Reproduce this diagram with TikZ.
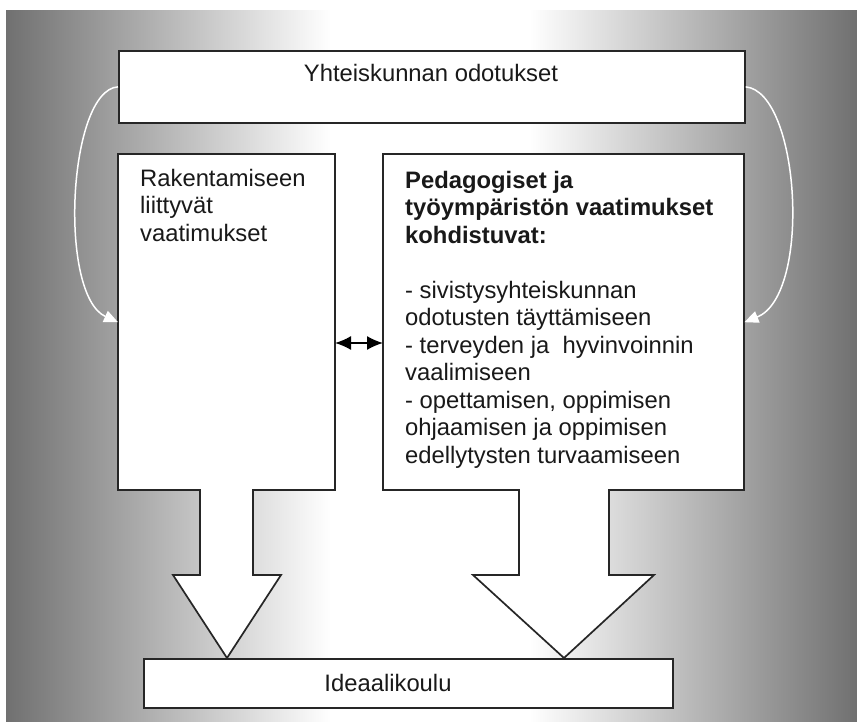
\documentclass[tikz,border=0pt]{standalone}
\usepackage{fontspec}
\setmainfont{Liberation Sans}
\usetikzlibrary{arrows.meta}
\definecolor{edgegray}{gray}{0.44}
\definecolor{inkgray}{gray}{0.1}
\begin{document}
\begin{tikzpicture}[x=1pt,y=-1pt,
  outline/.style={draw=black!85, line width=1.7pt, fill=white, line join=miter},
  holder/.style={draw=none, inner sep=0pt, anchor=north west},
  txt/.style={inner sep=0pt, text=inkgray, font=\fontsize{23.8}{27.5}\selectfont},
  para/.style={txt, align=left, anchor=north west},
  feed/.style={draw=white, line width=1.5pt, -{Triangle[length=14pt,width=12pt,fill=white]}},
  link/.style={draw=black, line width=1.6pt, {Latex[length=16pt,width=14pt]}-{Latex[length=16pt,width=14pt]}}]
\useasboundingbox (0,0) rectangle (857,728);
% background: grey at both sides, white in the middle
\fill[white] (0,0) rectangle (857,728);
\shade[left color=edgegray, right color=white] (6,10) rectangle (330.5,721);
\fill[white] (330,10) rectangle (530,721);
\shade[left color=white, right color=edgegray] (529.5,10) rectangle (857,721);

% top box
\node[outline, anchor=north west, minimum width=626pt, minimum height=72pt, inner sep=0pt] (soc) at (118,50) {};
\node[txt, anchor=base] (soctxt) at (431,81) {Yhteiskunnan odotukset};

% left box with its block arrow
\node[holder, minimum width=217pt, minimum height=336pt] (lbox) at (118,154) {};
\draw[outline] (118,154) -- (335,154) -- (335,490) -- (253,490) -- (253,575)
  -- (281,575) -- (227,658) -- (173,575) -- (200,575) -- (200,490) -- (118,490) -- cycle;
\node[para] (ltxt) at (140,169) {Rakentamiseen\\liittyvät\\vaatimukset};

% right box with its block arrow
\node[holder, minimum width=361pt, minimum height=336pt] (rbox) at (383,154) {};
\draw[outline] (383,154) -- (744,154) -- (744,490) -- (609,490) -- (609,575)
  -- (654,575) -- (564,658) -- (473,575) -- (519,575) -- (519,490) -- (383,490) -- cycle;
\node[para, font=\fontsize{23.8}{27.5}\selectfont\bfseries] (rhead) at (405,171)
  {Pedagogiset ja\\työympäristön vaatimukset\\kohdistuvat:};
\node[para] (rlist) at (405,281)
  {- sivistysyhteiskunnan\\odotusten täyttämiseen\\- terveyden ja\ \ hyvinvoinnin\\vaalimiseen\\- opettamisen, oppimisen\\ohjaamisen ja oppimisen\\edellytysten turvaamiseen};

% bottom box
\node[outline, anchor=north west, minimum width=529pt, minimum height=49pt, inner sep=0pt] (ideal) at (143,658) {};
\node[txt, anchor=base] (idealtxt) at (388,691) {Ideaalikoulu};

% curved feedback arrows
\draw[feed] (soc.west) .. controls (68,90) and (58,295) .. (lbox.west);
\draw[feed] (soc.east) .. controls (800,92) and (812,295) .. (rbox.east);

% two-way arrow between the boxes
\coordinate (la) at (335,343);
\coordinate (ra) at (383,343);
\draw[link] (la) -- (ra);
\end{tikzpicture}
\end{document}
